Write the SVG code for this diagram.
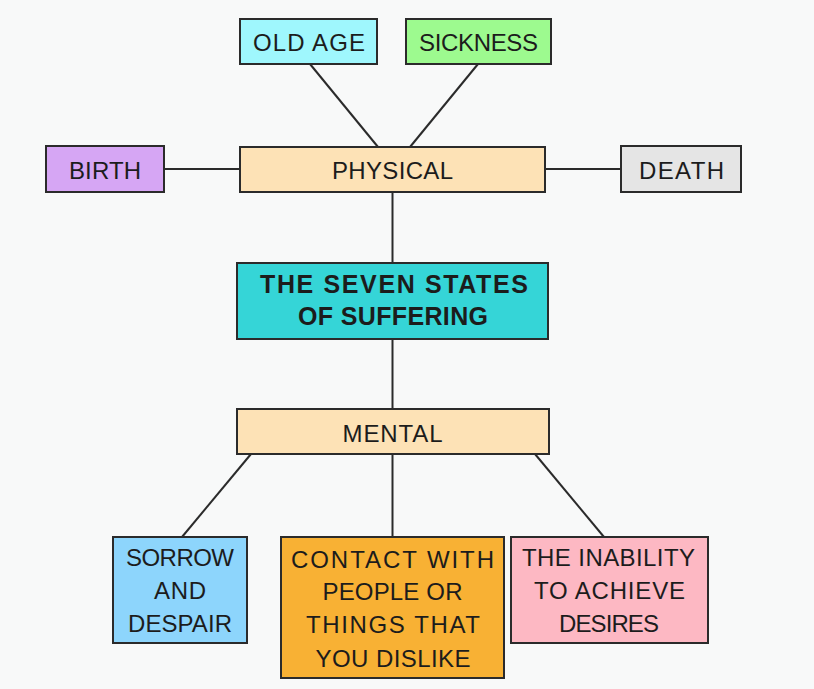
<svg xmlns="http://www.w3.org/2000/svg" width="814" height="689" viewBox="0 0 814 689">
<style>
.box{stroke:#2b2b2b;stroke-width:2}
.t{font-family:"Liberation Sans",Arial,sans-serif;font-size:24px;fill:#1c1c1c;text-anchor:middle}
.b{font-weight:bold;font-size:25px}
.c{stroke:#2b2b2b;stroke-width:2;fill:none}
</style>
<rect width="814" height="689" fill="#f8f9f9"/>
<g id="connectors">
<line class="c" x1="310" y1="64" x2="378" y2="147"/>
<line class="c" x1="478" y1="64" x2="410" y2="147"/>
<line class="c" x1="164" y1="169" x2="240" y2="169"/>
<line class="c" x1="545" y1="169" x2="621" y2="169"/>
<line class="c" x1="392.5" y1="192" x2="392.5" y2="263"/>
<line class="c" x1="392.5" y1="339" x2="392.5" y2="409"/>
<line class="c" x1="251" y1="454" x2="182" y2="537"/>
<line class="c" x1="392.5" y1="454" x2="392.5" y2="537"/>
<line class="c" x1="535" y1="454" x2="604" y2="537"/>
</g>
<g id="old-age">
<rect class="box" x="240" y="19" width="137" height="45" fill="#9ff7fd"/>
<text class="t" x="309" y="51" textLength="112" lengthAdjust="spacing">OLD AGE</text>
</g>
<g id="sickness">
<rect class="box" x="406" y="19" width="145" height="45" fill="#9dfa8f"/>
<text class="t" x="478.5" y="51" textLength="119" lengthAdjust="spacing">SICKNESS</text>
</g>
<g id="birth">
<rect class="box" x="46" y="146" width="118" height="46" fill="#d6a6f4"/>
<text class="t" x="105" y="179" textLength="72" lengthAdjust="spacing">BIRTH</text>
</g>
<g id="physical">
<rect class="box" x="240" y="147" width="305" height="45" fill="#fde2b6"/>
<text class="t" x="392.5" y="179" textLength="121" lengthAdjust="spacing">PHYSICAL</text>
</g>
<g id="death">
<rect class="box" x="621" y="146" width="120" height="46" fill="#e5e5e5"/>
<text class="t" x="681.5" y="179" textLength="85" lengthAdjust="spacing">DEATH</text>
</g>
<g id="center">
<rect class="box" x="237" y="263" width="311" height="76" fill="#35d5d7"/>
<text class="t b" x="394" y="293" textLength="268" lengthAdjust="spacing">THE SEVEN STATES</text>
<text class="t b" x="393" y="325" textLength="190" lengthAdjust="spacing">OF SUFFERING</text>
</g>
<g id="mental">
<rect class="box" x="237" y="409" width="312" height="45" fill="#fde2b6"/>
<text class="t" x="392.5" y="442" textLength="100" lengthAdjust="spacing">MENTAL</text>
</g>
<g id="sorrow">
<rect class="box" x="113" y="537" width="134" height="106" fill="#8dd5fc"/>
<text class="t" x="180" y="566" textLength="108" lengthAdjust="spacing">SORROW</text>
<text class="t" x="180" y="599" textLength="52" lengthAdjust="spacing">AND</text>
<text class="t" x="180" y="632" textLength="104" lengthAdjust="spacing">DESPAIR</text>
</g>
<g id="contact">
<rect class="box" x="281" y="537" width="223" height="141" fill="#f8b134"/>
<text class="t" x="392.5" y="568" textLength="203" lengthAdjust="spacing">CONTACT WITH</text>
<text class="t" x="392.5" y="600" textLength="140" lengthAdjust="spacing">PEOPLE OR</text>
<text class="t" x="393" y="633" textLength="174" lengthAdjust="spacing">THINGS THAT</text>
<text class="t" x="393" y="667" textLength="155" lengthAdjust="spacing">YOU DISLIKE</text>
</g>
<g id="inability">
<rect class="box" x="511" y="537" width="197" height="106" fill="#fdb8c3"/>
<text class="t" x="608.5" y="566" textLength="173" lengthAdjust="spacing">THE INABILITY</text>
<text class="t" x="609.5" y="599" textLength="151" lengthAdjust="spacing">TO ACHIEVE</text>
<text class="t" x="609" y="632" textLength="100" lengthAdjust="spacing">DESIRES</text>
</g>
</svg>
